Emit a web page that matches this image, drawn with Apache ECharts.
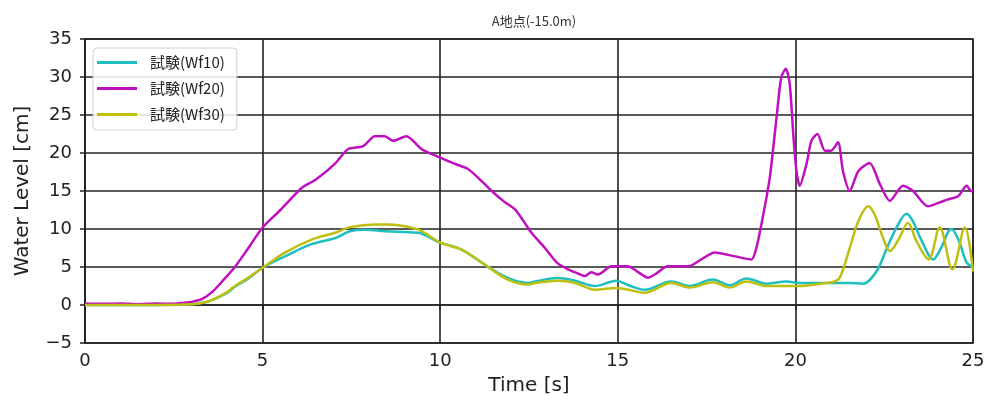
<!DOCTYPE html>
<html>
<head>
<meta charset="utf-8">
<script src="https://cdn.jsdelivr.net/npm/echarts@6/dist/echarts.min.js"></script>
<style>html,body{margin:0;padding:0;background:#fff;}#c{width:989px;height:403px;}</style>
</head>
<body>
<div id="c"></div>
<script>
const titleText = 'A地点(-15.0m)';
const seriesNames = ['試験(Wf10)', '試験(Wf20)', '試験(Wf30)'];
const xTicks = [0, 5, 10, 15, 20, 25];
const yTicks = [-5, 0, 5, 10, 15, 20, 25, 30, 35];

const t10 = [0, 1, 2, 2.8, 3.2, 3.5, 4.0, 4.22, 4.6, 5.0, 5.63, 6.38, 7.04, 7.46, 7.9, 8.44, 9.37, 10.0, 10.6, 11.26, 11.9, 12.48, 12.67, 13.3, 13.8, 14.35, 14.96, 15.3, 15.76, 16.5, 17.03, 17.68, 18.15, 18.62, 19.2, 19.75, 20.12, 20.87, 21.5, 21.9, 22.28, 22.56, 22.85, 23.13, 23.31, 23.55, 23.88, 24.1, 24.39, 24.6, 24.82, 25];
const v10 = [0, 0, 0, 0.05, 0.2, 0.5, 1.6, 2.4, 3.5, 4.9, 6.4, 8.0, 8.8, 9.7, 9.9, 9.7, 9.5, 8.2, 7.3, 5.3, 3.55, 2.9, 3.1, 3.55, 3.2, 2.5, 3.2, 2.6, 2.0, 3.1, 2.5, 3.35, 2.6, 3.5, 2.8, 3.1, 2.9, 2.9, 2.9, 2.8, 4.4, 7.3, 10.2, 12.0, 11.0, 8.5, 6.0, 7.5, 10.0, 8.5, 5.6, 5.0];

const t20 = [0, 0.5, 1.0, 1.5, 2.0, 2.5, 2.8, 3.0, 3.3, 3.6, 3.9, 4.22, 4.6, 5.0, 5.5, 6.1, 6.5, 7.04, 7.4, 7.83, 8.16, 8.44, 8.67, 9.05, 9.48, 10.0, 10.4, 10.78, 11.1, 11.45, 11.8, 12.1, 12.35, 12.57, 12.95, 13.3, 13.6, 13.85, 14.07, 14.25, 14.44, 14.82, 15.28, 15.55, 15.85, 16.1, 16.4, 16.8, 17.0, 17.35, 17.73, 18.3, 18.76, 18.9, 19.08, 19.28, 19.47, 19.6, 19.73, 19.84, 19.94, 20.03, 20.12, 20.31, 20.45, 20.62, 20.83, 21.0, 21.2, 21.34, 21.53, 21.77, 22.09, 22.38, 22.66, 23.03, 23.31, 23.73, 24.06, 24.3, 24.58, 24.82, 24.95, 25];
const v20 = [0.2, 0.15, 0.2, 0.1, 0.2, 0.15, 0.3, 0.4, 0.8, 1.8, 3.3, 5.0, 7.5, 10.2, 12.5, 15.4, 16.5, 18.6, 20.5, 20.9, 22.2, 22.2, 21.6, 22.2, 20.5, 19.4, 18.6, 17.9, 16.6, 15.0, 13.6, 12.6, 11.0, 9.5, 7.5, 5.5, 4.7, 4.2, 3.8, 4.3, 4.0, 5.1, 5.1, 4.4, 3.6, 4.2, 5.1, 5.1, 5.1, 6.0, 6.9, 6.4, 6.0, 7.5, 11.5, 16.8, 24.7, 29.9, 31.1, 29.1, 22.5, 17.6, 15.7, 18.5, 21.6, 22.5, 20.3, 20.3, 21.4, 17.6, 15.0, 17.6, 18.7, 15.9, 13.7, 15.7, 15.0, 13.0, 13.5, 13.9, 14.3, 15.7, 15.0, 15.0];

const t30 = [0, 1, 2, 2.8, 3.2, 3.5, 4.0, 4.22, 4.6, 5.0, 5.63, 6.38, 7.04, 7.46, 8.16, 8.44, 9.37, 10.0, 10.6, 11.26, 11.9, 12.48, 12.67, 13.3, 13.8, 14.35, 14.96, 15.3, 15.76, 16.5, 17.03, 17.68, 18.15, 18.62, 19.2, 19.75, 20.12, 20.87, 21.05, 21.25, 21.53, 21.77, 22.05, 22.23, 22.47, 22.66, 22.9, 23.17, 23.41, 23.75, 24.06, 24.42, 24.77, 25];
const v30 = [0, 0, 0, 0.05, 0.2, 0.5, 1.7, 2.5, 3.6, 4.9, 6.9, 8.6, 9.5, 10.25, 10.6, 10.6, 9.95, 8.2, 7.3, 5.3, 3.35, 2.7, 2.9, 3.2, 2.9, 2.0, 2.25, 2.0, 1.6, 2.9, 2.3, 3.0, 2.3, 3.1, 2.5, 2.5, 2.5, 2.9, 3.0, 3.6, 7.5, 11.0, 13.0, 11.9, 8.8, 7.1, 8.6, 10.8, 8.4, 6.0, 10.2, 4.7, 10.2, 4.4];

const colors = ['#1fbfbf', '#bf10bf', '#bfbf10'];

function pairs(t, v) { return t.map((x, i) => [x, v[i]]); }
const fmt = v => String(v).replace('-', '\u2212');

const chart = echarts.init(document.getElementById('c'), null, {renderer: 'canvas'});
chart.setOption({
  animation: false,
  backgroundColor: '#fff',
  title: {
    text: titleText, left: 529, top: 10, textAlign: 'center',
    textStyle: {fontSize: 13, fontWeight: 'normal', color: '#333', fontFamily: 'Noto Sans CJK JP'}
  },
  legend: {
    orient: 'vertical', left: 93, top: 48,
    data: seriesNames.map(n => ({name: n, icon: 'rect'})),
    itemWidth: 40, itemHeight: 3, itemGap: 11,
    padding: [7, 12, 8, 4],
    backgroundColor: 'rgba(255,255,255,0.85)', borderColor: '#d0d0d0', borderWidth: 1, borderRadius: 4,
    textStyle: {fontSize: 15, color: '#222', fontFamily: 'Noto Sans CJK JP', padding: [0, 0, 0, 8]}
  },
  grid: {left: 85, right: 16, top: 39, bottom: 60, show: true, borderColor: '#222', borderWidth: 1.5},
  xAxis: {
    type: 'value', min: 0, max: 25, interval: 5,
    name: 'Time [s]', nameLocation: 'middle', nameGap: 33,
    nameTextStyle: {fontSize: 20, color: '#222', fontFamily: 'DejaVu Sans'},
    axisLine: {show: true, lineStyle: {color: '#222', width: 1.5}},
    axisTick: {show: true, length: 5, lineStyle: {color: '#222', width: 1.5}},
    axisLabel: {fontSize: 18, color: '#222', fontFamily: 'DejaVu Sans', margin: 9, formatter: fmt},
    splitLine: {show: true, lineStyle: {color: '#222', width: 1.6}}
  },
  yAxis: {
    type: 'value', min: -5, max: 35, interval: 5,
    name: 'Water Level [cm]', nameLocation: 'middle', nameGap: 52,
    nameTextStyle: {fontSize: 20, color: '#222', fontFamily: 'DejaVu Sans'},
    axisLine: {show: true, lineStyle: {color: '#222', width: 1.5}},
    axisTick: {show: true, length: 5, lineStyle: {color: '#222', width: 1.5}},
    axisLabel: {fontSize: 18, color: '#222', fontFamily: 'DejaVu Sans', margin: 13, formatter: fmt},
    splitLine: {show: true, lineStyle: {color: '#222', width: 1.6}}
  },
  series: [
    {name: seriesNames[0], type: 'line', data: pairs(t10, v10), showSymbol: false, smooth: 0.35,
      lineStyle: {color: colors[0], width: 2.5}, itemStyle: {color: colors[0]}, z: 3},
    {name: seriesNames[1], type: 'line', data: pairs(t20, v20), showSymbol: false, smooth: 0.25,
      lineStyle: {color: colors[1], width: 2.5}, itemStyle: {color: colors[1]}, z: 4},
    {name: seriesNames[2], type: 'line', data: pairs(t30, v30), showSymbol: false, smooth: 0.35,
      lineStyle: {color: colors[2], width: 2.5}, itemStyle: {color: colors[2]}, z: 5}
  ]
});
</script>
</body>
</html>
